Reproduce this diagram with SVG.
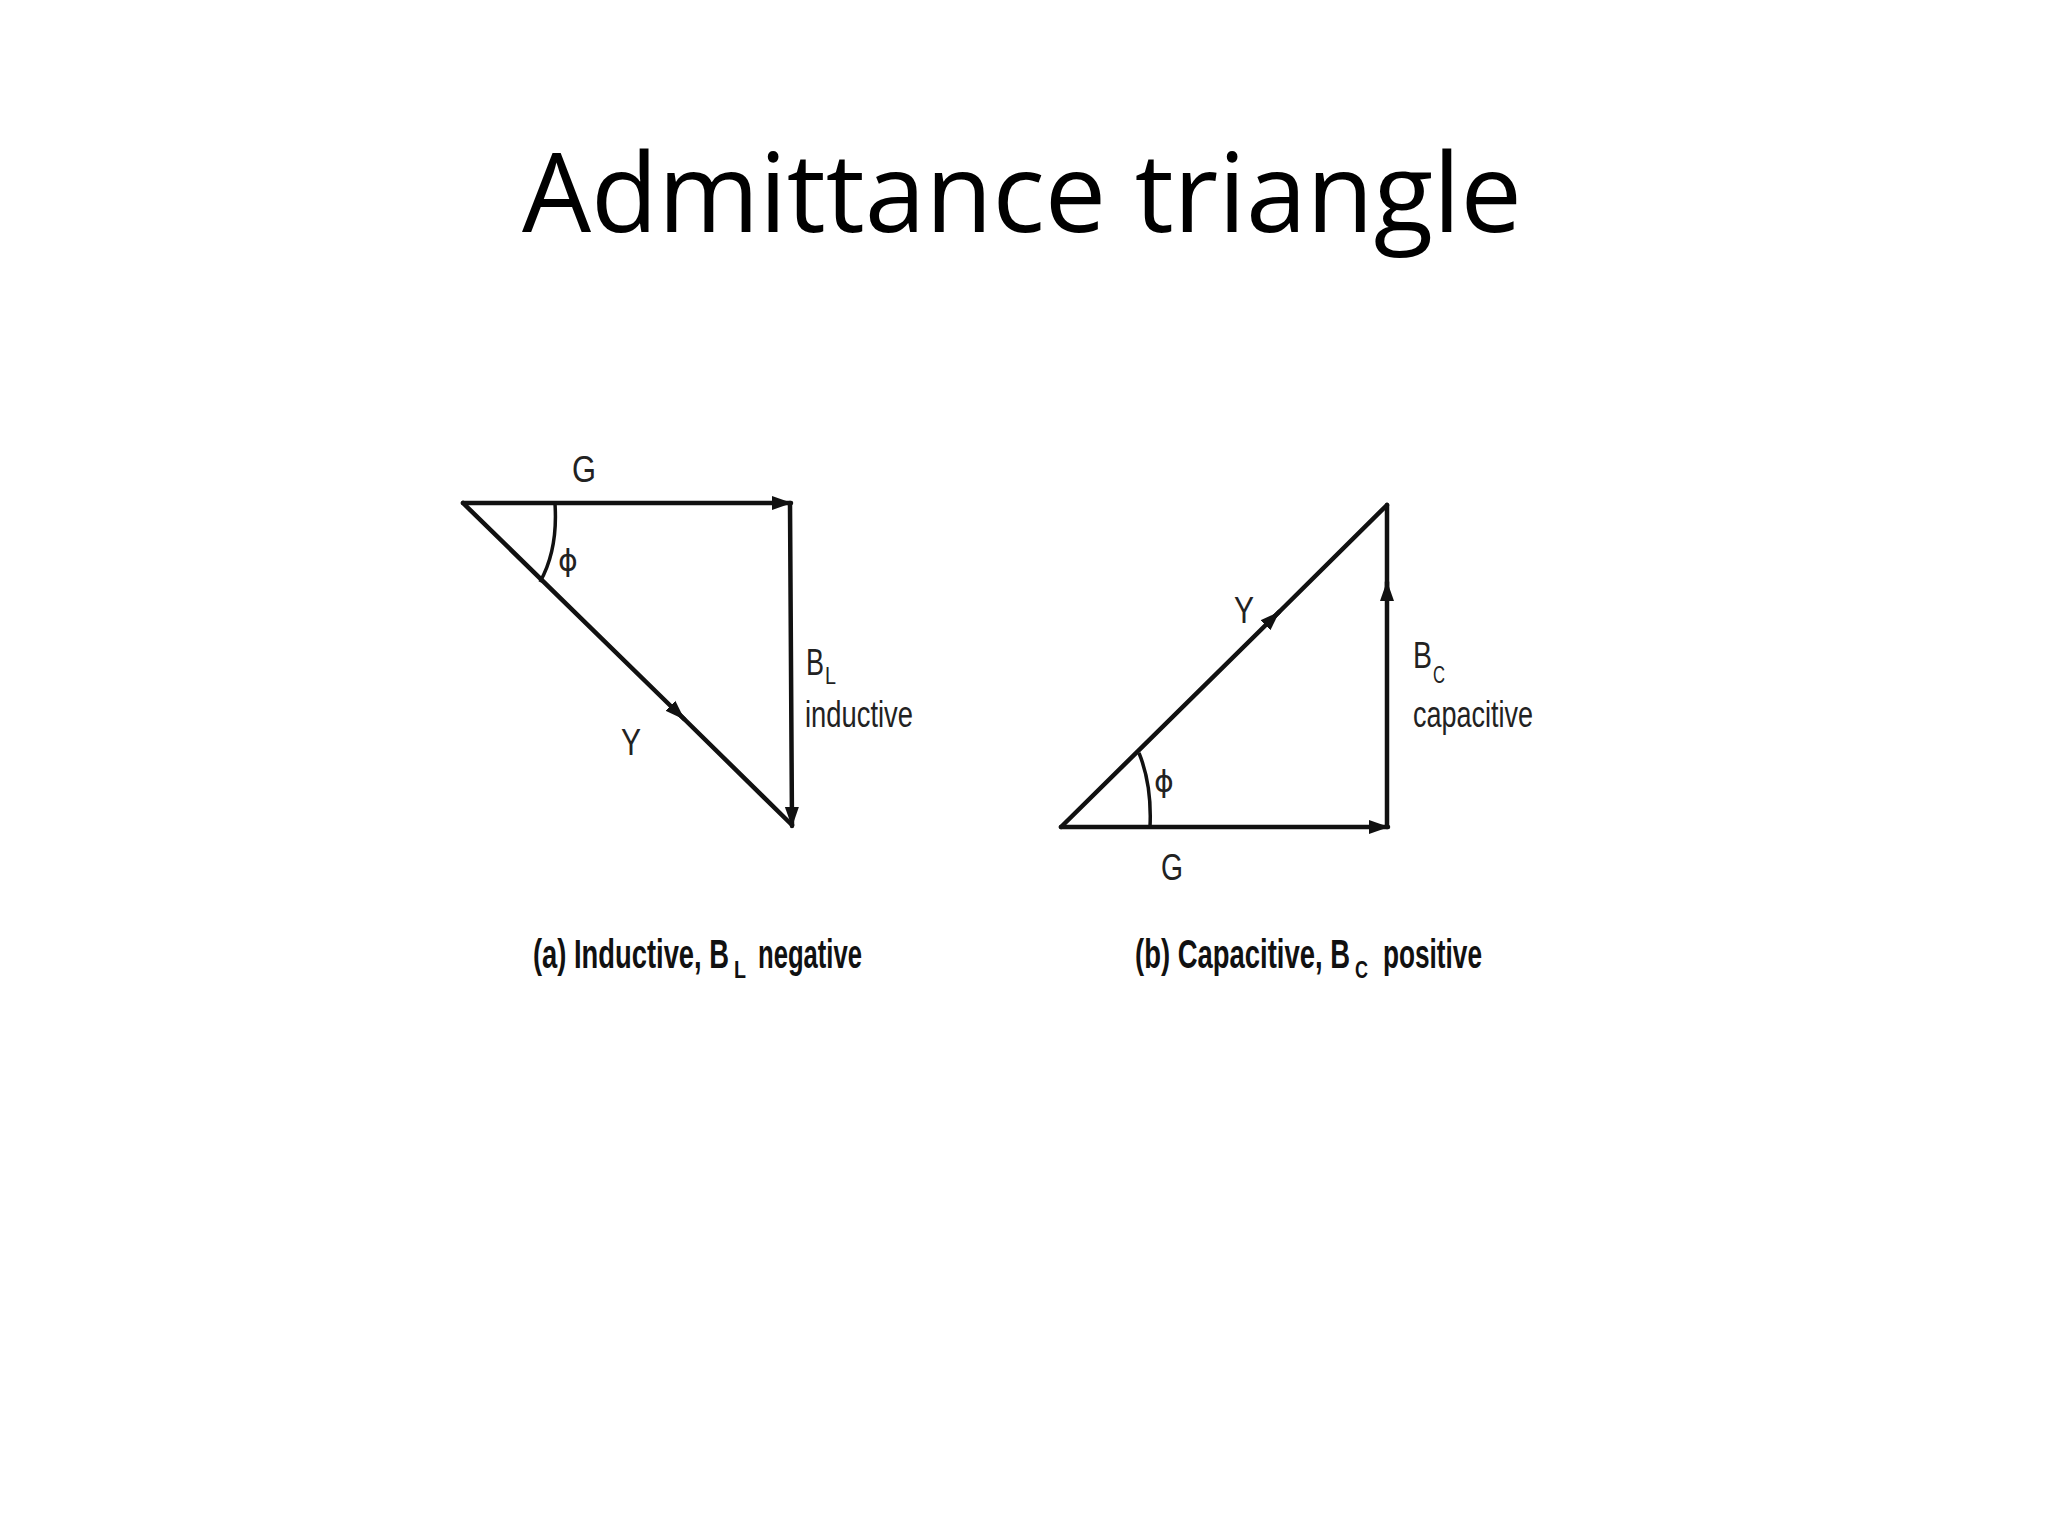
<svg xmlns="http://www.w3.org/2000/svg" width="2048" height="1536" viewBox="0 0 2048 1536">
<defs>
<marker id="ah" markerWidth="22" markerHeight="16" refX="19" refY="8" orient="auto" markerUnits="userSpaceOnUse">
<path d="M0,1 L20,8 L0,15 Z" fill="#111"/>
</marker>
<style>
.ln{stroke:#111;stroke-width:4.5;fill:none;stroke-linecap:round}
.arc{stroke:#111;stroke-width:3.5;fill:none}
.lb{font-family:"Liberation Sans","Arial",sans-serif;fill:#222;font-size:36px}
.sub{font-family:"Liberation Sans","Arial",sans-serif;fill:#222;font-size:24px}
.phi{font-family:"DejaVu Sans","Liberation Sans",sans-serif;fill:#222;font-size:30px}
.cap{font-family:"Liberation Sans","Arial",sans-serif;fill:#111;font-weight:bold;font-size:40px}
.capsub{font-family:"Liberation Sans","Arial",sans-serif;fill:#111;font-weight:bold;font-size:24px}
.title{font-family:"Open Sans","Liberation Sans",sans-serif;fill:#000;font-size:110px}
</style>
</defs>
<rect width="2048" height="1536" fill="#fff"/>
<text class="title" x="522" y="232" textLength="1000" lengthAdjust="spacingAndGlyphs">Admittance triangle</text>

<g id="triangle-a">
<g id="connectors-a">
<line class="ln" x1="463" y1="503" x2="791" y2="503" marker-end="url(#ah)"/>
<line class="ln" x1="790" y1="503" x2="792" y2="826" marker-end="url(#ah)"/>
<line class="ln" x1="463" y1="503" x2="684" y2="719" marker-end="url(#ah)"/>
<line class="ln" x1="675" y1="710" x2="792" y2="825"/>
<path class="arc" d="M555,504 Q558,550 540,582"/>
</g>
<text class="lb" x="584" y="482" text-anchor="middle" textLength="24" lengthAdjust="spacingAndGlyphs">G</text>
<text class="phi" x="568" y="571" text-anchor="middle">ϕ</text>
<text class="lb" x="631" y="755" text-anchor="middle" textLength="20" lengthAdjust="spacingAndGlyphs">Y</text>
<text class="lb" x="806" y="675" textLength="18" lengthAdjust="spacingAndGlyphs">B</text>
<text class="sub" x="825" y="684" textLength="11" lengthAdjust="spacingAndGlyphs">L</text>
<text class="lb" x="805" y="727" textLength="108" lengthAdjust="spacingAndGlyphs">inductive</text>
<text class="cap" x="533" y="968" textLength="196" lengthAdjust="spacingAndGlyphs">(a) Inductive, B</text>
<text class="capsub" x="734" y="978" textLength="12" lengthAdjust="spacingAndGlyphs">L</text>
<text class="cap" x="758" y="968" textLength="104" lengthAdjust="spacingAndGlyphs">negative</text>
</g>

<g id="triangle-b">
<g id="connectors-b">
<line class="ln" x1="1061" y1="827" x2="1388" y2="827" marker-end="url(#ah)"/>
<line class="ln" x1="1387" y1="827" x2="1387" y2="582" marker-end="url(#ah)"/>
<line class="ln" x1="1387" y1="590" x2="1387" y2="505"/>
<line class="ln" x1="1061" y1="827" x2="1279" y2="612" marker-end="url(#ah)"/>
<line class="ln" x1="1272" y1="619" x2="1387" y2="505"/>
<path class="arc" d="M1139,753 Q1152,785 1150,827"/>
</g>
<text class="lb" x="1244" y="623" text-anchor="middle" textLength="20" lengthAdjust="spacingAndGlyphs">Y</text>
<text class="phi" x="1164" y="792" text-anchor="middle">ϕ</text>
<text class="lb" x="1172" y="880" text-anchor="middle" textLength="22" lengthAdjust="spacingAndGlyphs">G</text>
<text class="lb" x="1413" y="668" textLength="19" lengthAdjust="spacingAndGlyphs">B</text>
<text class="sub" x="1433" y="683" textLength="12" lengthAdjust="spacingAndGlyphs">C</text>
<text class="lb" x="1413" y="727" textLength="120" lengthAdjust="spacingAndGlyphs">capacitive</text>
<text class="cap" x="1135" y="968" textLength="215" lengthAdjust="spacingAndGlyphs">(b) Capacitive, B</text>
<text class="capsub" x="1355" y="978" textLength="13" lengthAdjust="spacingAndGlyphs">C</text>
<text class="cap" x="1383" y="968" textLength="99" lengthAdjust="spacingAndGlyphs">positive</text>
</g>
</svg>
